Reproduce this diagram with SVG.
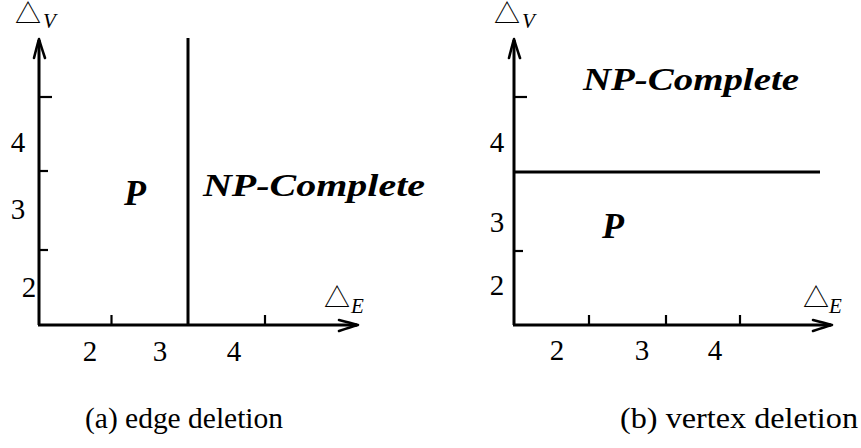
<svg xmlns="http://www.w3.org/2000/svg" width="861" height="448" viewBox="0 0 861 448">
<style>
.ax{stroke:#000;stroke-width:3;fill:none}
.tk{stroke:#000;stroke-width:2.2;fill:none}
.ah{stroke:#000;stroke-width:2.6;fill:none;stroke-linecap:round;stroke-linejoin:round}
.num{font-size:29px;fill:#000;text-anchor:middle}
.tri{font-size:26px;fill:#000}
.sub{font-style:italic;font-size:21px;fill:#000}
.reg{font-style:italic;font-weight:bold;fill:#000}
.cap{font-size:29px;fill:#000}
</style>
<rect width="861" height="448" fill="#fff"/>
<g id="connectors">
  <line class="ax" x1="39" y1="325" x2="39" y2="40"/>
  <path class="ah" d="M34,58 Q37,46 39,39 Q41,46 45,58"/>
  <line class="ax" x1="38" y1="325" x2="357" y2="325"/>
  <path class="ah" d="M339,320 Q351,323 358,325 Q351,327 339,331"/>
  <line class="ax" x1="514" y1="325" x2="514" y2="40"/>
  <path class="ah" d="M509,58 Q512,46 514,39 Q516,46 520,58"/>
  <line class="ax" x1="513" y1="325" x2="831" y2="325"/>
  <path class="ah" d="M813,320 Q825,323 832,325 Q825,327 813,331"/>
</g>
<g id="left-ticks">
  <line class="tk" x1="39" y1="97" x2="52" y2="97"/>
  <line class="tk" x1="39" y1="171" x2="48" y2="171"/>
  <line class="tk" x1="39" y1="250" x2="48" y2="250"/>
  <line class="tk" x1="111.5" y1="325" x2="111.5" y2="315"/>
  <line class="tk" x1="265" y1="325" x2="265" y2="315"/>
</g>
<g id="right-ticks">
  <line class="tk" x1="514" y1="97" x2="527" y2="97"/>
  <line class="tk" x1="514" y1="251" x2="523" y2="251"/>
  <line class="tk" x1="589" y1="325" x2="589" y2="315"/>
  <line class="tk" x1="666" y1="325" x2="666" y2="315"/>
  <line class="tk" x1="740" y1="325" x2="740" y2="315"/>
</g>
<g id="left-boundary">
  <line class="ax" x1="188" y1="38" x2="188" y2="326"/>
</g>
<g id="right-boundary">
  <line class="ax" x1="514" y1="172" x2="820" y2="172"/>
</g>
<g font-family="'Liberation Serif', 'DejaVu Serif', serif">
<g id="left-labels">
  <text class="tri" font-family="'Noto Sans CJK SC', 'DejaVu Sans', sans-serif" x="15" y="23">△</text><text class="sub" x="43" y="28">V</text>
  <text class="tri" font-family="'Noto Sans CJK SC', 'DejaVu Sans', sans-serif" x="324" y="307">△</text><text class="sub" x="351" y="313">E</text>
  <text class="num" x="18" y="152">4</text>
  <text class="num" x="18" y="219">3</text>
  <text class="num" x="29" y="297">2</text>
  <text class="num" x="90" y="361">2</text>
  <text class="num" x="160" y="361">3</text>
  <text class="num" x="234" y="361">4</text>
</g>
<g id="right-labels">
  <text class="tri" font-family="'Noto Sans CJK SC', 'DejaVu Sans', sans-serif" x="494" y="23">△</text><text class="sub" x="522" y="28">V</text>
  <text class="tri" font-family="'Noto Sans CJK SC', 'DejaVu Sans', sans-serif" x="803" y="307">△</text><text class="sub" x="829" y="313">E</text>
  <text class="num" x="497" y="152">4</text>
  <text class="num" x="497" y="232">3</text>
  <text class="num" x="497" y="295">2</text>
  <text class="num" x="557" y="360">2</text>
  <text class="num" x="642" y="360">3</text>
  <text class="num" x="715" y="360">4</text>
</g>
<g id="region-left-P"><text class="reg" x="124" y="205" font-size="36">P</text></g>
<g id="region-left-NP"><text class="reg" x="203" y="196" font-size="32" textLength="222" lengthAdjust="spacingAndGlyphs">NP-Complete</text></g>
<g id="region-right-NP"><text class="reg" x="583" y="90" font-size="32" textLength="216" lengthAdjust="spacingAndGlyphs">NP-Complete</text></g>
<g id="region-right-P"><text class="reg" x="602" y="238" font-size="36">P</text></g>
<g id="captions">
  <text class="cap" x="85" y="428" textLength="198" lengthAdjust="spacingAndGlyphs">(a) edge deletion</text>
  <text class="cap" x="620" y="428" textLength="238" lengthAdjust="spacingAndGlyphs">(b) vertex deletion</text>
</g>
</g>
</svg>
